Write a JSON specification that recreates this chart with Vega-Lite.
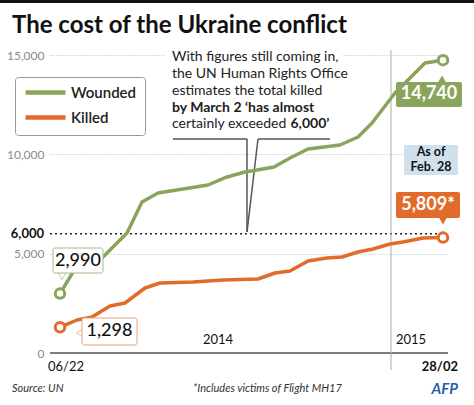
{
  "$schema": "https://vega.github.io/schema/vega-lite/v6.json",
  "width": 398,
  "height": 298,
  "autosize": {"type": "none"},
  "padding": {"left": 50, "top": 55, "right": 26, "bottom": 52},
  "background": "white",
  "config": {"view": {"stroke": null}, "font": "Lato", "text": {"font": "Lato"}},
  "resolve": {"axis": {"x": "independent", "y": "independent"}},
  "data": {
    "values": [
      {"series": "Wounded", "t": 0, "value": 2990},
      {"series": "Wounded", "t": 13, "value": 4077},
      {"series": "Wounded", "t": 43, "value": 4833},
      {"series": "Wounded", "t": 67, "value": 6040},
      {"series": "Wounded", "t": 82, "value": 7601},
      {"series": "Wounded", "t": 98, "value": 8054},
      {"series": "Wounded", "t": 148, "value": 8457},
      {"series": "Wounded", "t": 167, "value": 8860},
      {"series": "Wounded", "t": 185, "value": 9111},
      {"series": "Wounded", "t": 197, "value": 9212},
      {"series": "Wounded", "t": 214, "value": 9363},
      {"series": "Wounded", "t": 230, "value": 9816},
      {"series": "Wounded", "t": 248, "value": 10269},
      {"series": "Wounded", "t": 280, "value": 10470},
      {"series": "Wounded", "t": 298, "value": 10873},
      {"series": "Wounded", "t": 312, "value": 11578},
      {"series": "Wounded", "t": 335, "value": 13088},
      {"series": "Wounded", "t": 365, "value": 14599},
      {"series": "Wounded", "t": 383, "value": 14740},
      {"series": "Killed", "t": 0, "value": 1298},
      {"series": "Killed", "t": 17, "value": 1661},
      {"series": "Killed", "t": 32, "value": 1812},
      {"series": "Killed", "t": 50, "value": 2366},
      {"series": "Killed", "t": 65, "value": 2517},
      {"series": "Killed", "t": 85, "value": 3272},
      {"series": "Killed", "t": 100, "value": 3524},
      {"series": "Killed", "t": 133, "value": 3574},
      {"series": "Killed", "t": 163, "value": 3675},
      {"series": "Killed", "t": 198, "value": 3725},
      {"series": "Killed", "t": 215, "value": 4027},
      {"series": "Killed", "t": 230, "value": 4128},
      {"series": "Killed", "t": 248, "value": 4631},
      {"series": "Killed", "t": 267, "value": 4782},
      {"series": "Killed", "t": 282, "value": 4833},
      {"series": "Killed", "t": 298, "value": 5085},
      {"series": "Killed", "t": 313, "value": 5236},
      {"series": "Killed", "t": 330, "value": 5487},
      {"series": "Killed", "t": 343, "value": 5588},
      {"series": "Killed", "t": 363, "value": 5790},
      {"series": "Killed", "t": 383, "value": 5809}
    ]
  },
  "layer": [
    {
      "mark": {"type": "line", "strokeWidth": 3.5, "opacity": 0},
      "encoding": {
        "x": {"field": "t", "type": "quantitative", "scale": {"domain": [-10, 388], "nice": false, "zero": false}, "axis": null},
        "y": {"field": "value", "type": "quantitative", "scale": {"domain": [0, 15000], "nice": false}, "axis": {"values": [0, 5000, 10000, 15000], "labelExpr": "format(datum.value, ',')", "labelColor": "#8c8c8c", "labelFontSize": 12, "labelFont": "Lato", "labelPadding": 6, "domain": false, "ticks": false, "gridDash": [1, 2], "gridColor": "#b5b5b5", "gridWidth": 1, "title": null}},
        "detail": {"field": "series", "type": "nominal"}
      }
    },
    {
      "data": {"values": [{}]},
      "mark": {"type": "rect", "fill": "white"},
      "encoding": {
        "x": {"datum": 105, "type": "quantitative", "axis": null}, "x2": {"datum": 282},
        "y": {"datum": 15404, "type": "quantitative", "axis": null},
        "y2": {"datum": 10773}
      }
    },
    {
      "data": {"values": [{}]},
      "mark": {"type": "rule", "color": "#555", "strokeWidth": 1.5},
      "encoding": {"x": {"datum": -10, "type": "quantitative", "axis": null}, "x2": {"datum": 388}, "y": {"datum": 0, "type": "quantitative", "axis": null}}
    },
    {
      "data": {"values": [{}]},
      "mark": {"type": "rule", "color": "#222", "strokeWidth": 1.5, "strokeDash": [2, 3]},
      "encoding": {"x": {"datum": -10, "type": "quantitative", "axis": null}, "x2": {"datum": 388}, "y": {"datum": 6000, "type": "quantitative", "axis": null}}
    },
    {
      "data": {"values": [{}]},
      "mark": {"type": "rule", "color": "#aaa", "strokeWidth": 1},
      "encoding": {"x": {"datum": 331, "type": "quantitative", "axis": null}, "y": {"datum": 15253, "type": "quantitative", "axis": null}, "y2": {"datum": -856}}
    },
    {
      "data": {"values": [{}]},
      "mark": {"type": "rule", "color": "#555", "strokeWidth": 1.5},
      "encoding": {"x": {"datum": 113, "type": "quantitative", "axis": null}, "x2": {"datum": 187}, "y": {"datum": 10773, "type": "quantitative", "axis": null}, "y2": {"datum": 10773}}
    },
    {
      "data": {"values": [{}]},
      "mark": {"type": "rule", "color": "#555", "strokeWidth": 1.5},
      "encoding": {"x": {"datum": 198, "type": "quantitative", "axis": null}, "x2": {"datum": 270}, "y": {"datum": 10773, "type": "quantitative", "axis": null}, "y2": {"datum": 10773}}
    },
    {
      "data": {"values": [{}]},
      "mark": {"type": "rule", "color": "#555", "strokeWidth": 1.5},
      "encoding": {"x": {"datum": 187, "type": "quantitative", "axis": null}, "x2": {"datum": 187}, "y": {"datum": 10773, "type": "quantitative", "axis": null}, "y2": {"datum": 6091}}
    },
    {
      "data": {"values": [{}]},
      "mark": {"type": "rule", "color": "#555", "strokeWidth": 1.5},
      "encoding": {"x": {"datum": 198, "type": "quantitative", "axis": null}, "x2": {"datum": 187}, "y": {"datum": 10773, "type": "quantitative", "axis": null}, "y2": {"datum": 6091}}
    },
    {
      "data": {"values": [{}]},
      "mark": {"type": "rule", "color": "#111", "strokeWidth": 3},
      "encoding": {"x": {"datum": -60, "type": "quantitative", "axis": null}, "x2": {"datum": 414}, "y": {"datum": 17694, "type": "quantitative", "axis": null}}
    },
    {
      "mark": {"type": "line", "strokeWidth": 3.5, "strokeJoin": "round", "strokeCap": "round"},
      "encoding": {
        "x": {"field": "t", "type": "quantitative", "axis": null},
        "y": {"field": "value", "type": "quantitative", "axis": null},
        "color": {
          "field": "series", "type": "nominal",
          "scale": {"domain": ["Wounded", "Killed"], "range": ["#8aa55b", "#e06b2b"]},
          "legend": {"orient": "none", "legendX": -35, "legendY": 22, "title": null, "symbolType": "M-1,0H7", "symbolStrokeWidth": 4.5, "symbolSize": 100, "labelFontSize": 15, "labelFont": "Lato", "labelFontWeight": 600, "labelColor": "#222", "padding": 8, "strokeColor": "#999", "fillColor": "white", "cornerRadius": 3, "rowPadding": 6, "labelOffset": 33}
        }
      }
    },
    {
      "transform": [{"filter": "datum.t == 0 || datum.t == 383"}],
      "mark": {"type": "point", "shape": "circle", "filled": false, "fill": "white", "size": 90, "strokeWidth": 3, "opacity": 1},
      "encoding": {
        "x": {"field": "t", "type": "quantitative", "axis": null},
        "y": {"field": "value", "type": "quantitative", "axis": null},
        "stroke": {"field": "series", "type": "nominal", "scale": {"domain": ["Wounded", "Killed"], "range": ["#8aa55b", "#e06b2b"]}, "legend": null}
      }
    },
    {
      "data": {"values": [{}]},
      "mark": {"type": "point", "shape": "triangle-down", "filled": true, "fill": "white", "stroke": "#a8b88a", "strokeWidth": 1, "size": 70},
      "encoding": {"x": {"datum": 2, "type": "quantitative", "axis": null}, "y": {"datum": 3876, "type": "quantitative", "axis": null}}
    },
    {
      "data": {"values": [{}]},
      "mark": {"type": "rect", "fill": "white", "stroke": "#a8b88a", "strokeWidth": 1, "cornerRadius": 2},
      "encoding": {"x": {"datum": -7, "type": "quantitative", "axis": null}, "x2": {"datum": 43}, "y": {"datum": 5285, "type": "quantitative", "axis": null}, "y2": {"datum": 4027}}
    },
    {
      "data": {"values": [{}]},
      "mark": {"type": "text", "text": "2,990", "fontSize": 18, "fontWeight": 500, "color": "#111", "align": "center", "baseline": "middle"},
      "encoding": {"x": {"datum": 18, "type": "quantitative", "axis": null}, "y": {"datum": 4631, "type": "quantitative", "axis": null}}
    },
    {
      "data": {"values": [{}]},
      "mark": {"type": "point", "shape": "triangle-left", "filled": true, "fill": "white", "stroke": "#e5a27c", "strokeWidth": 1, "size": 70},
      "encoding": {"x": {"datum": 20, "type": "quantitative", "axis": null}, "y": {"datum": 1007, "type": "quantitative", "axis": null}}
    },
    {
      "data": {"values": [{}]},
      "mark": {"type": "rect", "fill": "white", "stroke": "#e5a27c", "strokeWidth": 1, "cornerRadius": 2},
      "encoding": {"x": {"datum": 22, "type": "quantitative", "axis": null}, "x2": {"datum": 77}, "y": {"datum": 1762, "type": "quantitative", "axis": null}, "y2": {"datum": 403}}
    },
    {
      "data": {"values": [{}]},
      "mark": {"type": "text", "text": "1,298", "fontSize": 18, "fontWeight": 500, "color": "#111", "align": "center", "baseline": "middle"},
      "encoding": {"x": {"datum": 49.5, "type": "quantitative", "axis": null}, "y": {"datum": 1107, "type": "quantitative", "axis": null}}
    },
    {
      "data": {"values": [{}]},
      "mark": {"type": "point", "shape": "triangle-up", "filled": true, "fill": "#8aa55b", "size": 70, "opacity": 1},
      "encoding": {"x": {"datum": 382, "type": "quantitative", "axis": null}, "y": {"datum": 13792, "type": "quantitative", "axis": null}}
    },
    {
      "data": {"values": [{}]},
      "mark": {"type": "rect", "fill": "#8aa55b", "cornerRadius": 2},
      "encoding": {"x": {"datum": 336, "type": "quantitative", "axis": null}, "x2": {"datum": 402}, "y": {"datum": 13641, "type": "quantitative", "axis": null}, "y2": {"datum": 12383}}
    },
    {
      "data": {"values": [{}]},
      "mark": {"type": "text", "text": "14,740", "fontSize": 18, "fontWeight": "bold", "color": "white", "align": "center", "baseline": "middle"},
      "encoding": {"x": {"datum": 369, "type": "quantitative", "axis": null}, "y": {"datum": 13012, "type": "quantitative", "axis": null}}
    },
    {
      "data": {"values": [{}]},
      "mark": {"type": "rect", "fill": "#cfe1ec"},
      "encoding": {"x": {"datum": 344, "type": "quantitative", "axis": null}, "x2": {"datum": 398}, "y": {"datum": 10470, "type": "quantitative", "axis": null}, "y2": {"datum": 8960}}
    },
    {
      "data": {"values": [{}]},
      "mark": {"type": "text", "text": "As of", "fontSize": 12.5, "fontWeight": "bold", "color": "#111", "align": "center", "baseline": "middle"},
      "encoding": {"x": {"datum": 371, "type": "quantitative", "axis": null}, "y": {"datum": 10093, "type": "quantitative", "axis": null}}
    },
    {
      "data": {"values": [{}]},
      "mark": {"type": "text", "text": "Feb. 28", "fontSize": 12.5, "fontWeight": "bold", "color": "#111", "align": "center", "baseline": "middle"},
      "encoding": {"x": {"datum": 371, "type": "quantitative", "axis": null}, "y": {"datum": 9338, "type": "quantitative", "axis": null}}
    },
    {
      "data": {"values": [{}]},
      "mark": {"type": "point", "shape": "triangle-down", "filled": true, "fill": "#e06b2b", "size": 70, "opacity": 1},
      "encoding": {"x": {"datum": 383, "type": "quantitative", "axis": null}, "y": {"datum": 6645, "type": "quantitative", "axis": null}}
    },
    {
      "data": {"values": [{}]},
      "mark": {"type": "rect", "fill": "#e06b2b", "cornerRadius": 2},
      "encoding": {"x": {"datum": 336, "type": "quantitative", "axis": null}, "x2": {"datum": 400}, "y": {"datum": 8104, "type": "quantitative", "axis": null}, "y2": {"datum": 6796}}
    },
    {
      "data": {"values": [{}]},
      "mark": {"type": "text", "text": "5,809*", "fontSize": 18, "fontWeight": "bold", "color": "white", "align": "center", "baseline": "middle"},
      "encoding": {"x": {"datum": 368, "type": "quantitative", "axis": null}, "y": {"datum": 7450, "type": "quantitative", "axis": null}}
    },
    {
      "data": {"values": [{}]},
      "mark": {"type": "text", "text": "The cost of the Ukraine conflict", "fontSize": 24, "fontWeight": "bold", "color": "#111", "align": "left", "baseline": "alphabetic"},
      "encoding": {"x": {"datum": -48, "type": "quantitative", "axis": null}, "y": {"datum": 16109, "type": "quantitative", "axis": null}}
    },
    {
      "data": {"values": [{}]},
      "mark": {"type": "text", "text": "6,000", "fontSize": 13, "fontWeight": "bold", "color": "#111", "align": "right", "baseline": "middle"},
      "encoding": {"x": {"datum": -16, "type": "quantitative", "axis": null}, "y": {"datum": 6000, "type": "quantitative", "axis": null}}
    },
    {
      "data": {"values": [{}]},
      "mark": {"type": "text", "text": "06/22", "fontSize": 13, "color": "#111", "align": "left", "baseline": "middle"},
      "encoding": {"x": {"datum": -12, "type": "quantitative", "axis": null}, "y": {"datum": -705, "type": "quantitative", "axis": null}}
    },
    {
      "data": {"values": [{}]},
      "mark": {"type": "text", "text": "28/02", "fontSize": 13, "fontWeight": "bold", "color": "#111", "align": "right", "baseline": "middle"},
      "encoding": {"x": {"datum": 398, "type": "quantitative", "axis": null}, "y": {"datum": -705, "type": "quantitative", "axis": null}}
    },
    {
      "data": {"values": [{}]},
      "mark": {"type": "text", "text": "2014", "fontSize": 13, "color": "#111", "align": "center", "baseline": "middle"},
      "encoding": {"x": {"datum": 158, "type": "quantitative", "axis": null}, "y": {"datum": 654, "type": "quantitative", "axis": null}}
    },
    {
      "data": {"values": [{}]},
      "mark": {"type": "text", "text": "2015", "fontSize": 13, "color": "#111", "align": "center", "baseline": "middle"},
      "encoding": {"x": {"datum": 351, "type": "quantitative", "axis": null}, "y": {"datum": 654, "type": "quantitative", "axis": null}}
    },
    {
      "data": {"values": [{}]},
      "mark": {"type": "text", "text": "Source: UN", "fontSize": 11, "fontStyle": "italic", "color": "#333", "align": "left", "baseline": "middle"},
      "encoding": {"x": {"datum": -48, "type": "quantitative", "axis": null}, "y": {"datum": -1812, "type": "quantitative", "axis": null}}
    },
    {
      "data": {"values": [{}]},
      "mark": {"type": "text", "text": "*Includes victims of Flight MH17", "fontSize": 11, "fontStyle": "italic", "color": "#333", "align": "left", "baseline": "middle"},
      "encoding": {"x": {"datum": 133, "type": "quantitative", "axis": null}, "y": {"datum": -1812, "type": "quantitative", "axis": null}}
    },
    {
      "data": {"values": [{}]},
      "mark": {"type": "text", "text": "AFP", "fontSize": 15, "fontStyle": "italic", "fontWeight": "bold", "color": "#1f5fae", "align": "right", "baseline": "middle"},
      "encoding": {"x": {"datum": 398, "type": "quantitative", "axis": null}, "y": {"datum": -1812, "type": "quantitative", "axis": null}}
    },
    {
      "data": {"values": [{}]},
      "mark": {"type": "text", "text": "With figures still coming in,", "fontSize": 14, "color": "#222", "align": "left", "baseline": "middle"},
      "encoding": {"x": {"datum": 112, "type": "quantitative", "axis": null}, "y": {"datum": 14900, "type": "quantitative", "axis": null}}
    },
    {
      "data": {"values": [{}]},
      "mark": {"type": "text", "text": "the UN Human Rights Office", "fontSize": 14, "color": "#222", "align": "left", "baseline": "middle"},
      "encoding": {"x": {"datum": 112, "type": "quantitative", "axis": null}, "y": {"datum": 14045, "type": "quantitative", "axis": null}}
    },
    {
      "data": {"values": [{}]},
      "mark": {"type": "text", "text": "estimates the total killed", "fontSize": 14, "color": "#222", "align": "left", "baseline": "middle"},
      "encoding": {"x": {"datum": 112, "type": "quantitative", "axis": null}, "y": {"datum": 13189, "type": "quantitative", "axis": null}}
    },
    {
      "data": {"values": [{}]},
      "mark": {"type": "text", "text": "by March 2 ‘has almost", "fontSize": 14, "fontWeight": "bold", "color": "#222", "align": "left", "baseline": "middle"},
      "encoding": {"x": {"datum": 112, "type": "quantitative", "axis": null}, "y": {"datum": 12333, "type": "quantitative", "axis": null}}
    },
    {
      "data": {"values": [{}]},
      "mark": {"type": "text", "text": "certainly exceeded", "fontSize": 14, "color": "#222", "align": "left", "baseline": "middle"},
      "encoding": {"x": {"datum": 112, "type": "quantitative", "axis": null}, "y": {"datum": 11528, "type": "quantitative", "axis": null}}
    },
    {
      "data": {"values": [{}]},
      "mark": {"type": "text", "text": "6,000’", "fontSize": 14, "fontWeight": "bold", "color": "#222", "align": "left", "baseline": "middle"},
      "encoding": {"x": {"datum": 230.5, "type": "quantitative", "axis": null}, "y": {"datum": 11528, "type": "quantitative", "axis": null}}
    }
  ]
}
